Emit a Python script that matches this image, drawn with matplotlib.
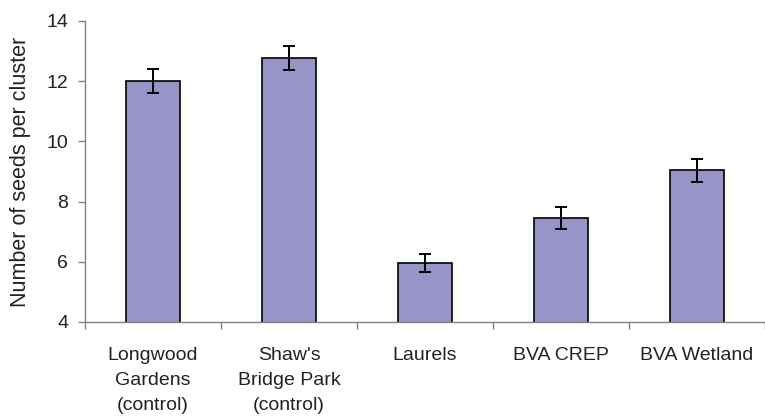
import matplotlib
matplotlib.use("Agg")
import matplotlib.pyplot as plt
import numpy as np

categories = ["Longwood\nGardens\n(control)", "Shaw's\nBridge Park\n(control)",
              "Laurels", "BVA CREP", "BVA Wetland"]
means = [12.02, 12.77, 5.96, 7.45, 9.04]
errors = [0.40, 0.39, 0.29, 0.37, 0.38]
yticks = [4, 6, 8, 10, 12, 14]

plt.rcParams['font.family'] = ['Liberation Sans', 'DejaVu Sans']

fig = plt.figure(figsize=(7.65, 4.17), dpi=100)
ax = fig.add_axes([85/765, 1 - 322/417, 680/765, (322 - 21)/417])

x = np.arange(len(categories))
ax.bar(x, means, width=0.4, color='#9794C8', edgecolor='black', linewidth=1.2,
       yerr=errors, capsize=4, error_kw=dict(ecolor='black', elinewidth=1.4, capthick=1.4),
       zorder=2)

ax.set_xlim(-0.5, 4.47)
ax.set_ylim(4, 14)
ax.set_yticks(yticks)
ax.tick_params(axis='y', labelsize=14, colors='#808080', labelcolor='#222222',
               direction='out', length=5, width=1, pad=7)

# boundary ticks (major) without labels, category labels as minor ticks
ax.set_xticks(np.arange(len(categories) + 1) - 0.5)
ax.set_xticklabels([])
ax.set_xticks(x, minor=True)
ax.set_xticklabels(categories, minor=True, fontsize=14, linespacing=1.62)
ax.tick_params(axis='x', which='major', direction='out', length=5, width=1, colors='#808080')
ax.tick_params(axis='x', which='minor', length=0, pad=18, labelcolor='#222222')

for s in ['top', 'right']:
    ax.spines[s].set_visible(False)
for s in ['left', 'bottom']:
    ax.spines[s].set_color('#808080')
    ax.spines[s].set_linewidth(1)

ax.set_ylabel("Number of seeds per cluster", fontsize=15.5, labelpad=11, color='#222222')

fig.savefig("out.png", dpi=100)
